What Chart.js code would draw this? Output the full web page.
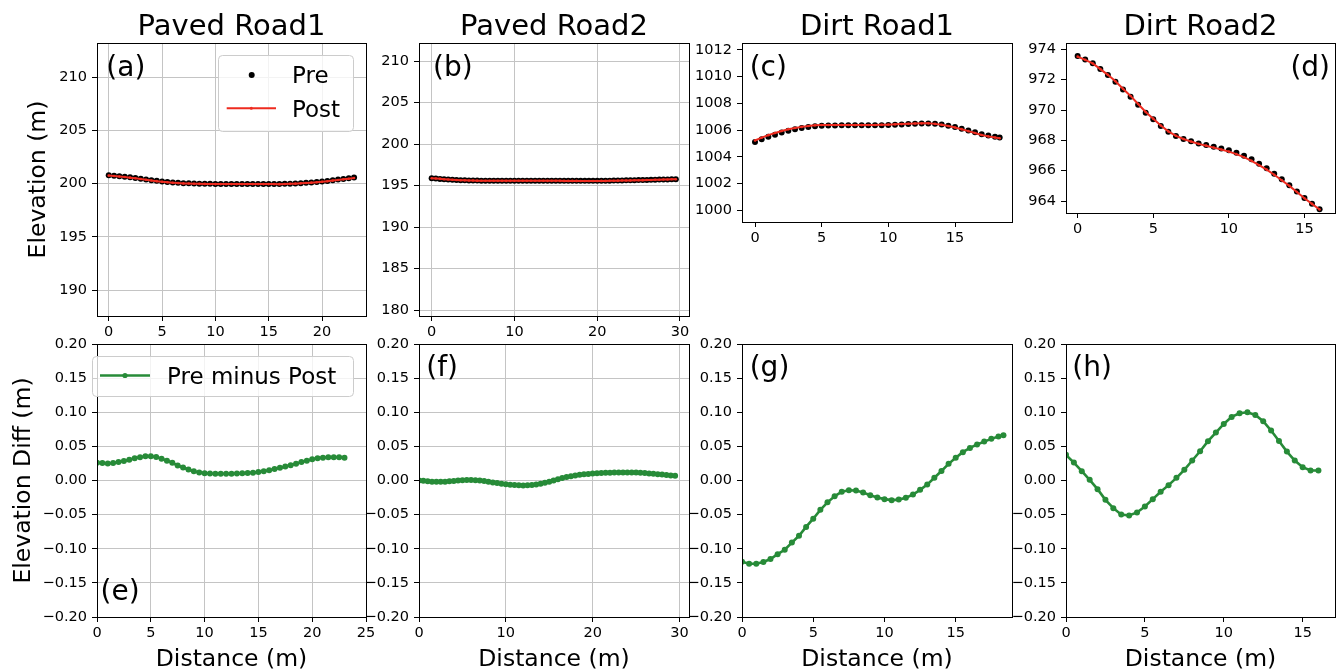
<!DOCTYPE html>
<html><head><meta charset="utf-8">
<script src="https://cdn.jsdelivr.net/npm/chart.js@4.4.1/dist/chart.umd.min.js"></script>
<style>
html,body{margin:0;padding:0;background:#fff;width:1336px;height:672px;overflow:hidden;position:relative;}
canvas{position:absolute;}
</style></head><body>
<script>
// ---------------- DATA ----------------
const titles = ['Paved Road1', 'Paved Road2', 'Dirt Road1', 'Dirt Road2'];
const panelLetters = ['(a)', '(b)', '(c)', '(d)', '(e)', '(f)', '(g)', '(h)'];

const distA = [0,0.5,1,1.5,2,2.5,3,3.5,4,4.5,5,5.5,6,6.5,7,7.5,8,8.5,9,9.5,10,10.5,11,11.5,12,12.5,13,13.5,14,14.5,15,15.5,16,16.5,17,17.5,18,18.5,19,19.5,20,20.5,21,21.5,22,22.5,23];
const preA = [200.78,200.74,200.70,200.65,200.59,200.53,200.46,200.40,200.33,200.27,
  200.21,200.16,200.12,200.08,200.05,200.03,200.01,200.00,199.99,199.98,
  199.97,199.97,199.97,199.97,199.97,199.97,199.97,199.97,199.97,199.97,
  199.97,199.97,199.97,199.98,200.00,200.02,200.05,200.08,200.12,200.16,
  200.21,200.26,200.32,200.38,200.44,200.50,200.57];
const postA = [200.754,200.715,200.675,200.625,200.563,200.502,200.430,200.368,200.296,200.235,
  200.175,200.126,200.088,200.051,200.024,200.008,199.991,199.984,199.977,199.968,
  199.959,199.960,199.960,199.960,199.960,199.960,199.960,199.960,199.959,199.959,
  199.958,199.957,199.955,199.963,199.982,199.999,200.028,200.056,200.093,200.131,
  200.179,200.228,200.287,200.346,200.406,200.466,200.537];
const diffA = [0.026,0.0255,0.025,0.0255,0.027,0.0285,0.0305,0.0325,0.034,0.0355,
  0.0355,0.0345,0.032,0.029,0.026,0.022,0.019,0.016,0.0135,0.0118,
  0.0108,0.0102,0.010,0.010,0.010,0.010,0.0102,0.0105,0.011,0.0115,
  0.0125,0.0135,0.015,0.017,0.0185,0.0205,0.0225,0.0245,0.027,0.029,
  0.031,0.0325,0.0335,0.034,0.034,0.034,0.0335];

const distB = [0,0.5,1,1.5,2,2.5,3,3.5,4,4.5,5,5.5,6,6.5,7,7.5,8,8.5,9,9.5,10,10.5,11,11.5,12,12.5,13,13.5,14,14.5,
  15,15.5,16,16.5,17,17.5,18,18.5,19,19.5,20,20.5,21,21.5,22,22.5,23,23.5,24,24.5,25,25.5,26,26.5,27,27.5,28,28.5,29,29.5];
const preB = [195.88,195.84,195.80,195.76,195.72,195.69,195.66,195.64,195.62,195.61,
  195.60,195.59,195.58,195.58,195.57,195.57,195.57,195.56,195.56,195.56,
  195.56,195.56,195.56,195.56,195.56,195.56,195.56,195.56,195.56,195.56,
  195.56,195.56,195.56,195.56,195.56,195.56,195.56,195.56,195.56,195.56,
  195.56,195.57,195.57,195.58,195.59,195.60,195.61,195.62,195.63,195.64,
  195.65,195.66,195.67,195.68,195.70,195.71,195.73,195.74,195.76,195.77];
const postB = [195.880,195.841,195.801,195.762,195.722,195.692,195.662,195.641,195.621,195.610,
  195.600,195.589,195.579,195.580,195.570,195.571,195.572,195.563,195.564,195.565,
  195.566,195.566,195.567,195.567,195.567,195.567,195.567,195.566,195.565,195.563,
  195.562,195.560,195.558,195.557,195.555,195.554,195.553,195.552,195.551,195.550,
  195.550,195.559,195.559,195.569,195.579,195.588,195.598,195.608,195.618,195.628,
  195.638,195.649,195.659,195.670,195.690,195.701,195.721,195.732,195.753,195.763];
const diffB = [0.000,-0.0005,-0.0012,-0.0018,-0.002,-0.002,-0.0018,-0.0012,-0.0006,0.0,
  0.0005,0.0008,0.0008,0.0005,0.0,-0.0008,-0.0018,-0.0028,-0.0038,-0.0048,
  -0.0056,-0.0062,-0.0067,-0.0071,-0.0073,-0.0071,-0.0066,-0.0058,-0.0047,-0.0034,
  -0.0018,0.0,0.0018,0.0035,0.005,0.0063,0.0074,0.0083,0.0091,0.0097,
  0.0102,0.0106,0.0109,0.0112,0.0114,0.0116,0.0117,0.0118,0.0118,0.0117,
  0.0116,0.0113,0.0109,0.0104,0.0099,0.0093,0.0087,0.0081,0.0075,0.0069];

const distC = [0,0.5,1,1.5,2,2.5,3,3.5,4,4.5,5,5.5,6,6.5,7,7.5,8,8.5,9,9.5,10,10.5,11,11.5,12,12.5,13,13.5,14,14.5,15,15.5,16,16.5,17,17.5,18,18.35];
const preC = [1005.10,1005.31,1005.50,1005.66,1005.82,1005.95,1006.06,1006.15,1006.23,1006.29,
  1006.32,1006.34,1006.35,1006.36,1006.36,1006.36,1006.36,1006.36,1006.36,1006.37,
  1006.38,1006.40,1006.42,1006.45,1006.47,1006.49,1006.50,1006.47,1006.41,1006.33,
  1006.23,1006.11,1005.97,1005.83,1005.69,1005.59,1005.51,1005.45];
const postC = [1005.219,1005.432,1005.622,1005.780,1005.935,1006.058,1006.162,1006.241,1006.311,1006.358,
  1006.376,1006.383,1006.382,1006.383,1006.377,1006.374,1006.375,1006.378,1006.382,1006.395,
  1006.407,1006.429,1006.448,1006.475,1006.491,1006.504,1006.506,1006.466,1006.396,1006.306,
  1006.197,1006.069,1005.922,1005.777,1005.633,1005.529,1005.446,1005.384];
const diffC = [-0.119,-0.122,-0.122,-0.1195,-0.115,-0.108,-0.1015,-0.091,-0.081,-0.068,
  -0.056,-0.043,-0.032,-0.023,-0.0166,-0.0142,-0.0147,-0.0176,-0.0215,-0.025,
  -0.0273,-0.0288,-0.028,-0.0254,-0.0205,-0.0137,-0.006,0.004,0.014,0.0244,
  0.0332,0.0415,0.0478,0.0527,0.057,0.061,0.0644,0.0663];

const distD = [0,0.5,1,1.5,2,2.5,3,3.5,4,4.5,5,5.5,6,6.5,7,7.5,8,8.5,9,9.5,10,10.5,11,11.5,12,12.5,13,13.5,14,14.5,15,15.5,16];
const preD = [973.56,973.34,973.08,972.70,972.31,971.87,971.36,970.88,970.35,969.82,
  969.39,968.95,968.57,968.29,968.09,967.94,967.80,967.69,967.58,967.47,
  967.34,967.18,966.99,966.75,966.46,966.16,965.80,965.43,965.04,964.62,
  964.20,963.82,963.45];
const postD = [973.52,973.31,973.07,972.70,972.32,971.90,971.40,970.93,970.40,969.87,
  969.43,968.98,968.59,968.30,968.09,967.92,967.77,967.65,967.52,967.40,
  967.26,967.09,966.89,966.65,966.36,966.07,965.73,965.37,965.00,964.59,
  964.18,963.81,963.44];
const diffD = [0.0376,0.0263,0.0137,0.001,-0.0127,-0.0283,-0.0405,-0.0498,-0.0512,-0.0468,
  -0.038,-0.0273,-0.0166,-0.0068,0.0039,0.0156,0.0293,0.0429,0.0576,0.0702,
  0.0829,0.0932,0.0985,0.1,0.0961,0.0868,0.0732,0.058,0.0424,0.0293,
  0.0195,0.0146,0.0146];

// tick values and labels
const xTicksA = [0,5,10,15,20];          const xLabelsA = ['0','5','10','15','20'];
const xTicksB = [0,10,20,30];            const xLabelsB = ['0','10','20','30'];
const xTicksC = [0,5,10,15];             const xLabelsC = ['0','5','10','15'];
const xTicksD = [0,5,10,15];             const xLabelsD = ['0','5','10','15'];
const xTicksE = [0,5,10,15,20,25];       const xLabelsE = ['0','5','10','15','20','25'];
const xTicksF = [0,10,20,30];            const xLabelsF = ['0','10','20','30'];
const xTicksG = [0,5,10,15];             const xLabelsG = ['0','5','10','15'];
const xTicksH = [0,5,10,15];             const xLabelsH = ['0','5','10','15'];
const yTicksA = [190,195,200,205,210];   const yLabelsA = ['190','195','200','205','210'];
const yTicksB = [180,185,190,195,200,205,210]; const yLabelsB = ['180','185','190','195','200','205','210'];
const yTicksC = [1000,1002,1004,1006,1008,1010,1012]; const yLabelsC = ['1000','1002','1004','1006','1008','1010','1012'];
const yTicksD = [964,966,968,970,972,974]; const yLabelsD = ['964','966','968','970','972','974'];
const diffTicks = [-0.2,-0.15,-0.1,-0.05,0,0.05,0.1,0.15,0.2];
const diffLabels = ['\u22120.20','\u22120.15','\u22120.10','\u22120.05','0.00','0.05','0.10','0.15','0.20'];

// ---------------- DRAWING ----------------
const FONT = '"DejaVu Sans", "Liberation Sans", sans-serif';
Chart.defaults.font.family = FONT;
const RED = '#ee2b1f';
const GREEN = '#278b38';
const GRIDC = '#c4c4c4';

function pts(xs, ys) { return xs.map((x, i) => ({ x: x, y: ys[i] })); }

function topSets(dist, pre, post) {
  return [
    { label: 'Post', data: pts(dist, post), borderColor: RED, backgroundColor: RED, borderWidth: 2,
      pointRadius: 1.3, pointBorderWidth: 0, pointBackgroundColor: RED, order: 0, clip: 0, tension: 0 },
    { label: 'Pre', data: pts(dist, pre), showLine: false, borderColor: '#000', backgroundColor: '#000',
      pointRadius: 3, pointBorderWidth: 0, pointBackgroundColor: '#000', order: 1, clip: 0 }
  ];
}
function diffSets(dist, diff) {
  return [
    { label: 'Pre minus Post', data: pts(dist, diff), borderColor: GREEN, backgroundColor: GREEN, borderWidth: 2.6,
      pointRadius: 3, pointBorderWidth: 0, pointBackgroundColor: GREEN, clip: 0, tension: 0 }
  ];
}

function makePanel(p) {
  const ML = 97, MT = 45, MR = 20, MB = p.bottom ? 56 : 40;
  const W = (p.R - p.L) + ML + MR, H = (p.B - p.T) + MT + MB;
  const cx = p.L - ML, cy = p.T - MT;
  const cv = document.createElement('canvas');
  cv.width = W; cv.height = H;
  cv.style.left = cx + 'px'; cv.style.top = cy + 'px';
  cv.style.width = W + 'px'; cv.style.height = H + 'px';
  document.body.appendChild(cv);

  const deco = {
    id: 'deco',
    beforeDraw(chart) {
      const ctx = chart.ctx, a = chart.chartArea;
      ctx.save(); ctx.fillStyle = '#fff';
      ctx.fillRect(a.left, a.top, a.right - a.left, a.bottom - a.top);
      ctx.restore();
    },
    afterDraw(chart) {
      const ctx = chart.ctx, a = chart.chartArea;
      ctx.save();
      ctx.strokeStyle = '#000'; ctx.lineWidth = 1;
      ctx.strokeRect(a.left + 0.5, a.top + 0.5, a.right - a.left, a.bottom - a.top);
      ctx.translate(-cx, -cy);
      ctx.fillStyle = '#000';
      ctx.textBaseline = 'alphabetic';
      if (p.title) {
        ctx.font = '29px ' + FONT; ctx.textAlign = 'center';
        ctx.fillText(p.title, (p.L + p.R) / 2, 34.5);
      }
      if (p.xTitle) {
        ctx.font = '23.5px ' + FONT; ctx.textAlign = 'center';
        ctx.fillText(p.xTitle, (p.L + p.R) / 2, 666);
      }
      if (p.yTitle) {
        ctx.save();
        ctx.translate(p.yTitleX, (p.T + p.B) / 2);
        ctx.rotate(-Math.PI / 2);
        ctx.font = '23.5px ' + FONT; ctx.textAlign = 'center';
        ctx.fillText(p.yTitle, 0, 0);
        ctx.restore();
      }
      if (p.letter) {
        ctx.font = '28px ' + FONT;
        ctx.textAlign = p.letterAlign || 'left';
        ctx.fillText(p.letter, p.letterX, p.letterY);
      }
      if (p.legend === 'prepost') {
        ctx.save();
        ctx.beginPath(); ctx.roundRect(218.5, 55.5, 135, 76, 4);
        ctx.fillStyle = 'rgba(255,255,255,0.8)'; ctx.fill();
        ctx.strokeStyle = '#cccccc'; ctx.lineWidth = 1; ctx.stroke();
        ctx.fillStyle = '#000';
        ctx.beginPath(); ctx.arc(251.7, 75, 3, 0, Math.PI * 2); ctx.fill();
        ctx.strokeStyle = RED; ctx.lineWidth = 2;
        ctx.beginPath(); ctx.moveTo(226.7, 108.3); ctx.lineTo(276, 108.3); ctx.stroke();
        ctx.fillStyle = RED;
        ctx.beginPath(); ctx.arc(251.3, 108.3, 1.5, 0, Math.PI * 2); ctx.fill();
        ctx.fillStyle = '#000';
        ctx.font = '23px ' + FONT; ctx.textAlign = 'left';
        ctx.fillText('Pre', 292, 82.5);
        ctx.fillText('Post', 292, 116.5);
        ctx.restore();
      }
      if (p.legend === 'diff') {
        ctx.save();
        ctx.beginPath(); ctx.roundRect(92.5, 356.5, 261, 40, 4);
        ctx.fillStyle = 'rgba(255,255,255,0.8)'; ctx.fill();
        ctx.strokeStyle = '#cccccc'; ctx.lineWidth = 1; ctx.stroke();
        ctx.strokeStyle = GREEN; ctx.lineWidth = 2.6;
        ctx.beginPath(); ctx.moveTo(100, 375.5); ctx.lineTo(150, 375.5); ctx.stroke();
        ctx.fillStyle = GREEN;
        ctx.beginPath(); ctx.arc(125, 375.5, 2.6, 0, Math.PI * 2); ctx.fill();
        ctx.fillStyle = '#000';
        ctx.font = '23px ' + FONT; ctx.textAlign = 'left';
        ctx.fillText('Pre minus Post', 167, 383.5);
        ctx.restore();
      }
      ctx.restore();
    }
  };

  const axis = (min, max, ticks, labels, isX) => ({
    type: 'linear', position: isX ? 'bottom' : 'left', min: min, max: max,
    afterBuildTicks: s => { s.ticks = ticks.map(v => ({ value: v })); },
    afterFit: s => { if (isX) s.height = MB; else s.width = ML; },
    ticks: { callback: (v, i) => labels[i], font: { size: 14.5 }, color: '#000',
             padding: isX ? 3 : 5, maxRotation: 0, autoSkip: false, includeBounds: false },
    grid: { display: true, drawOnChartArea: p.grid, color: GRIDC, lineWidth: 1,
            drawTicks: true, tickLength: 5, tickColor: '#000', tickWidth: 1 },
    border: { display: false }
  });

  new Chart(cv, {
    type: 'line',
    data: { datasets: p.datasets },
    options: {
      responsive: false, animation: false, devicePixelRatio: 1, events: [],
      layout: { padding: { left: 0, top: MT, right: MR, bottom: 0 } },
      plugins: { legend: { display: false }, tooltip: { enabled: false } },
      scales: {
        x: axis(p.xmin, p.xmax, p.xticks, p.xlabels, true),
        y: axis(p.ymin, p.ymax, p.yticks, p.ylabels, false)
      }
    },
    plugins: [deco]
  });
}

// top row
makePanel({ L: 97, T: 43, R: 366, B: 316, xmin: -1.1, xmax: 24.12, ymin: 187.59, ymax: 213.19,
  xticks: xTicksA, xlabels: xLabelsA, yticks: yTicksA, ylabels: yLabelsA, grid: true,
  datasets: topSets(distA, preA, postA), title: titles[0], letter: panelLetters[0], letterX: 106.3, letterY: 75.5,
  yTitle: 'Elevation (m)', yTitleX: 45, legend: 'prepost' });
makePanel({ L: 419, T: 43, R: 689, B: 316, xmin: -1.53, xmax: 31.09, ymin: 179.28, ymax: 212.17,
  xticks: xTicksB, xlabels: xLabelsB, yticks: yTicksB, ylabels: yLabelsB, grid: true,
  datasets: topSets(distB, preB, postB), title: titles[1], letter: panelLetters[1], letterX: 433, letterY: 75.5 });
makePanel({ L: 742, T: 43, R: 1012, B: 222, xmin: -0.975, xmax: 19.275, ymin: 999.12, ymax: 1012.52,
  xticks: xTicksC, xlabels: xLabelsC, yticks: yTicksC, ylabels: yLabelsC, grid: false,
  datasets: topSets(distC, preC, postC), title: titles[2], letter: panelLetters[2], letterX: 749.7, letterY: 75.5 });
makePanel({ L: 1066, T: 43, R: 1335, B: 213, xmin: -0.77, xmax: 17.02, ymin: 963.21, ymax: 974.42,
  xticks: xTicksD, xlabels: xLabelsD, yticks: yTicksD, ylabels: yLabelsD, grid: false,
  datasets: topSets(distD, preD, postD), title: titles[3], letter: panelLetters[3], letterX: 1330, letterY: 75.5, letterAlign: 'right' });

// bottom row
makePanel({ L: 97, T: 344, R: 366, B: 617, bottom: true, xmin: 0, xmax: 25, ymin: -0.2, ymax: 0.2,
  xticks: xTicksE, xlabels: xLabelsE, yticks: diffTicks, ylabels: diffLabels, grid: true,
  datasets: diffSets(distA, diffA), letter: panelLetters[4], letterX: 100.5, letterY: 600,
  yTitle: 'Elevation Diff (m)', yTitleX: 30.3, xTitle: 'Distance (m)', legend: 'diff' });
makePanel({ L: 419, T: 344, R: 689, B: 617, bottom: true, xmin: 0, xmax: 31.1, ymin: -0.2, ymax: 0.2,
  xticks: xTicksF, xlabels: xLabelsF, yticks: diffTicks, ylabels: diffLabels, grid: true,
  datasets: diffSets(distB, diffB), letter: panelLetters[5], letterX: 426.3, letterY: 375.5, xTitle: 'Distance (m)' });
makePanel({ L: 742, T: 344, R: 1012, B: 617, bottom: true, xmin: 0, xmax: 18.95, ymin: -0.2, ymax: 0.2,
  xticks: xTicksG, xlabels: xLabelsG, yticks: diffTicks, ylabels: diffLabels, grid: false,
  datasets: diffSets(distC, diffC), letter: panelLetters[6], letterX: 749.7, letterY: 375.5, xTitle: 'Distance (m)' });
makePanel({ L: 1066, T: 344, R: 1335, B: 617, bottom: true, xmin: 0, xmax: 17.05, ymin: -0.2, ymax: 0.2,
  xticks: xTicksH, xlabels: xLabelsH, yticks: diffTicks, ylabels: diffLabels, grid: false,
  datasets: diffSets(distD, diffD), letter: panelLetters[7], letterX: 1072.3, letterY: 375.5, xTitle: 'Distance (m)' });
</script>
</body></html>
